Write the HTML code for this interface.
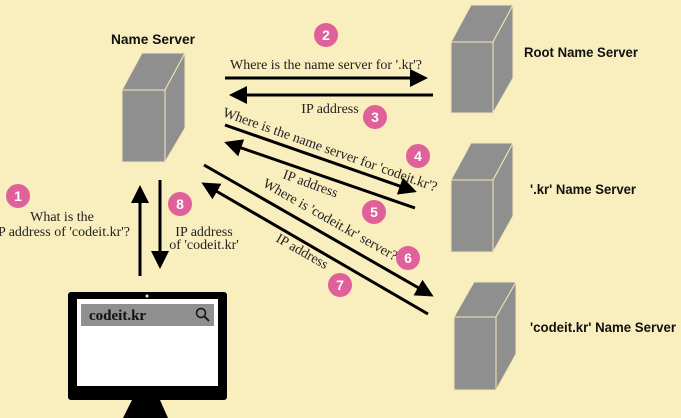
<!DOCTYPE html>
<html><head><meta charset="utf-8"><style>
html,body{margin:0;padding:0;background:#f9eebe;}
svg{display:block}
.s{font-family:"Liberation Serif",serif;font-size:14px;fill:#222}
.b{font-family:"Liberation Sans",sans-serif;font-size:14px;font-weight:bold;fill:#111}
.n{font-family:"Liberation Sans",sans-serif;font-size:14px;font-weight:bold;fill:#fff}
</style></head><body>
<svg width="681" height="418" viewBox="0 0 681 418" xmlns="http://www.w3.org/2000/svg">
<rect width="681" height="418" fill="#f9eebe"/>
<defs>
<marker id="a" markerWidth="6" markerHeight="6" refX="5" refY="3" orient="auto" markerUnits="strokeWidth"><path d="M0,0 L6,3 L0,6 z" fill="#000"/></marker>
</defs>
<g fill="#8f8f8f" stroke="#f4e7b4" stroke-width="1">
<path d="M122,90 L142,53 L185,53 L165,90 z"/><path d="M165,90 L185,53 L185,128 L165,162 z"/><rect x="122" y="90" width="43" height="72"/>
<path d="M451,42 L471,5 L513,5 L493,42 z"/><path d="M493,42 L513,5 L513,78 L493,113 z"/><rect x="451" y="42" width="42" height="71"/>
<path d="M451,180 L471,143 L513,143 L493,180 z"/><path d="M493,180 L513,143 L513,216 L493,252 z"/><rect x="451" y="180" width="42" height="72"/>
<path d="M454,317 L474,282 L516,282 L496,317 z"/><path d="M496,317 L516,282 L516,354 L496,390 z"/><rect x="454" y="317" width="42" height="73"/>
</g>
<text class="b" x="111" y="44" textLength="84" lengthAdjust="spacingAndGlyphs">Name Server</text>
<text class="b" x="524" y="57" textLength="114" lengthAdjust="spacingAndGlyphs">Root Name Server</text>
<text class="b" x="530" y="194" textLength="106" lengthAdjust="spacingAndGlyphs">'.kr' Name Server</text>
<text class="b" x="530" y="332" textLength="146" lengthAdjust="spacingAndGlyphs">'codeit.kr' Name Server</text>
<g stroke="#000" stroke-width="3" fill="none">
<line x1="225" y1="78" x2="425" y2="78" marker-end="url(#a)"/>
<line x1="433" y1="95" x2="232" y2="95" marker-end="url(#a)"/>
<line x1="225" y1="125" x2="414" y2="191" marker-end="url(#a)"/>
<line x1="415" y1="208" x2="227" y2="143" marker-end="url(#a)"/>
<line x1="204" y1="165" x2="431" y2="295" marker-end="url(#a)"/>
<line x1="428" y1="314" x2="204" y2="184" marker-end="url(#a)"/>
<line x1="140" y1="276" x2="140" y2="188" marker-end="url(#a)"/>
<line x1="160" y1="180" x2="160" y2="266" marker-end="url(#a)"/>
</g>
<text class="s" x="326" y="69" text-anchor="middle">Where is the name server for '.kr'?</text>
<text class="s" x="330" y="113" text-anchor="middle">IP address</text>
<text class="s" transform="translate(222,116) rotate(19.5)">Where is the name server for 'codeit.kr'?</text>
<text class="s" transform="translate(282,178) rotate(20)">IP address</text>
<text class="s" transform="translate(262,186) rotate(29.5)">Where is 'codeit.kr' server?</text>
<text class="s" transform="translate(275,241) rotate(29.5)">IP address</text>
<text class="s" x="62" y="221" text-anchor="middle">What is the</text>
<text class="s" x="130" y="236" text-anchor="end">IP address of 'codeit.kr'?</text>
<text class="s" x="204" y="236" text-anchor="middle">IP address</text>
<text class="s" x="204" y="249" text-anchor="middle">of 'codeit.kr'</text>
<g fill="#e0609a">
<circle cx="326" cy="35" r="12"/><circle cx="375" cy="117" r="12"/><circle cx="418" cy="156" r="12"/><circle cx="374" cy="212" r="12"/><circle cx="408" cy="258" r="12"/><circle cx="340" cy="285" r="12"/><circle cx="180" cy="204" r="12"/><circle cx="18" cy="196" r="12"/>
</g>
<g text-anchor="middle">
<text class="n" x="326" y="40">2</text><text class="n" x="375" y="122">3</text><text class="n" x="418" y="161">4</text><text class="n" x="374" y="217">5</text><text class="n" x="408" y="263">6</text><text class="n" x="340" y="290">7</text><text class="n" x="180" y="209">8</text><text class="n" x="18" y="201">1</text>
</g>
<rect x="68" y="292" width="159" height="108" rx="3" fill="#000"/>
<rect x="77" y="299" width="141" height="87" fill="#fff"/>
<rect x="81" y="304" width="133" height="22" fill="#8f8f8f"/>
<circle cx="147" cy="296" r="1.5" fill="#f9eebe"/>
<path d="M132,400 L160,400 L168,418 L123,418 z" fill="#000"/>
<text x="89" y="320" style="font-family:'Liberation Serif',serif;font-size:15px;font-weight:bold;fill:#111">codeit.kr</text>
<circle cx="201" cy="313" r="4.5" fill="none" stroke="#111" stroke-width="1.5"/>
<line x1="204" y1="316" x2="209" y2="321" stroke="#111" stroke-width="1.8"/>
</svg>
</body></html>
